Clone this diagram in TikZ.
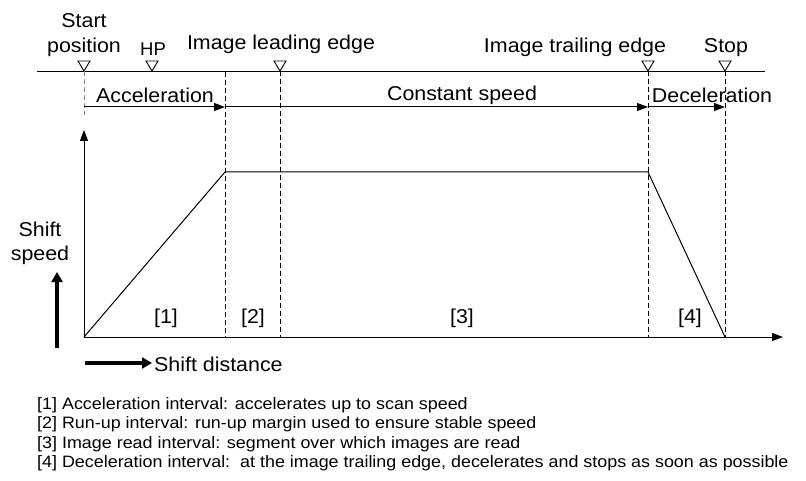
\documentclass[tikz,border=0pt]{standalone}
\usepackage{fontspec}
\setmainfont{Liberation Sans}
\usetikzlibrary{arrows.meta}
\newcommand\wdx[1]{\scalebox{1.07}[1]{#1}}
\newcommand\lwx[1]{\scalebox{1.085}[1]{#1}}
\begin{document}
\begin{tikzpicture}[x=1pt,y=-1pt,
  lbl/.style={font=\fontsize{20}{22}\selectfont, inner sep=0pt},
  small/.style={font=\fontsize{18.5}{20}\selectfont, inner sep=0pt},
  leg/.style={font=\fontsize{16.5}{18}\selectfont, inner sep=0pt, anchor=west},
  guide/.style={dashed, dash pattern=on 5pt off 3pt, line width=0.6pt},
  tip/.style={-{Triangle[length=11pt,width=8pt]}, line width=1pt},
  thick arrow/.style={-{Triangle[length=10pt,width=11pt]}, line width=4pt}
]
\useasboundingbox (0,0) rectangle (806,481);
% top line
\coordinate (tl) at (37,71);
\coordinate (tr) at (765,71);
\draw[line width=0.7pt] (tl) -- (tr);
% triangles
\foreach \n/\x in {ms/84, mhp/152, mle/280, mte/648, mst/725}{
  \draw[fill=white, line width=0.9pt] (\x-6,61) -- (\x+6,61) -- (\x,71) -- cycle;
  \coordinate (\n) at (\x,71);
}
% labels top
\node[lbl] (start) at (84,21) {\wdx{Start}};
\node[lbl] (pos) at (84,47) {\wdx{position}};
\node[small] (hp) at (153,49) {HP};
\node[lbl] (lead) at (281,44) {\wdx{Image leading edge}};
\node[lbl] (trail) at (575,47) {\wdx{Image trailing edge}};
\node[lbl] (stop) at (726,48) {\wdx{Stop}};
% axis
\coordinate (o) at (84,337);
\coordinate (ytop) at (84,130);
\coordinate (xend) at (783,337);
\draw[tip] (o) -- (ytop);
\draw[tip] (o) -- (xend);
% guides
\coordinate (b1) at (225,337);
\coordinate (b2) at (280,337);
\coordinate (b3) at (648,337);
\coordinate (b4) at (725,337);
\draw[guide, gray] (ms) -- (84,115);
\draw[guide] (225,72) -- (b1);
\draw[guide] (mle) -- (b2);
\draw[guide] (mte) -- (b3);
\draw[guide] (mst) -- (b4);
% interval arrows
\coordinate (a0) at (84,107);
\coordinate (a1) at (225,107);
\coordinate (a2) at (648,107);
\coordinate (a3) at (725,107);
\draw[tip] (a0) -- (a1);
\draw[tip] (a1) -- (a2);
\draw[tip] (a2) -- (a3);
\node[lbl] (acc) at (155,95) {\wdx{Acceleration}};
\node[lbl] (cs) at (462,95) {\wdx{Constant speed}};
\node[lbl] (dec) at (712,95) {\wdx{Deceleration}};
% speed curve
\coordinate (p1) at (225,172);
\coordinate (p2) at (648,172);
\draw[line width=1pt] (o) -- (p1) -- (p2) -- (b4);
% interval labels
\node[lbl] (i1) at (166,318) {\wdx{[1]}};
\node[lbl] (i2) at (253,318) {\wdx{[2]}};
\node[lbl] (i3) at (462,318) {\wdx{[3]}};
\node[lbl] (i4) at (690,318) {\wdx{[4]}};
% shift speed
\node[lbl] (ss1) at (40,229) {\wdx{Shift}};
\node[lbl] (ss2) at (40,255) {\wdx{speed}};
\coordinate (su0) at (57,348);
\coordinate (su1) at (57,272);
\draw[thick arrow] (su0) -- (su1);
\coordinate (sd0) at (85,363);
\coordinate (sd1) at (152,363);
\draw[thick arrow] (sd0) -- (sd1);
\node[lbl, anchor=west] (sd) at (154,364) {\wdx{Shift distance}};
% legend
\node[leg] (l1) at (37,405) {\lwx{[1] Acceleration interval: accelerates up to scan speed}};
\node[leg] (l2) at (37,424) {\lwx{[2] Run-up interval: run-up margin used to ensure stable speed}};
\node[leg] (l3) at (37,444) {\lwx{[3] Image read interval: segment over which images are read}};
\node[leg] (l4) at (37,463) {\lwx{[4] Deceleration interval:\ \ at the image trailing edge, decelerates and stops as soon as possible}};
\end{tikzpicture}
\end{document}
